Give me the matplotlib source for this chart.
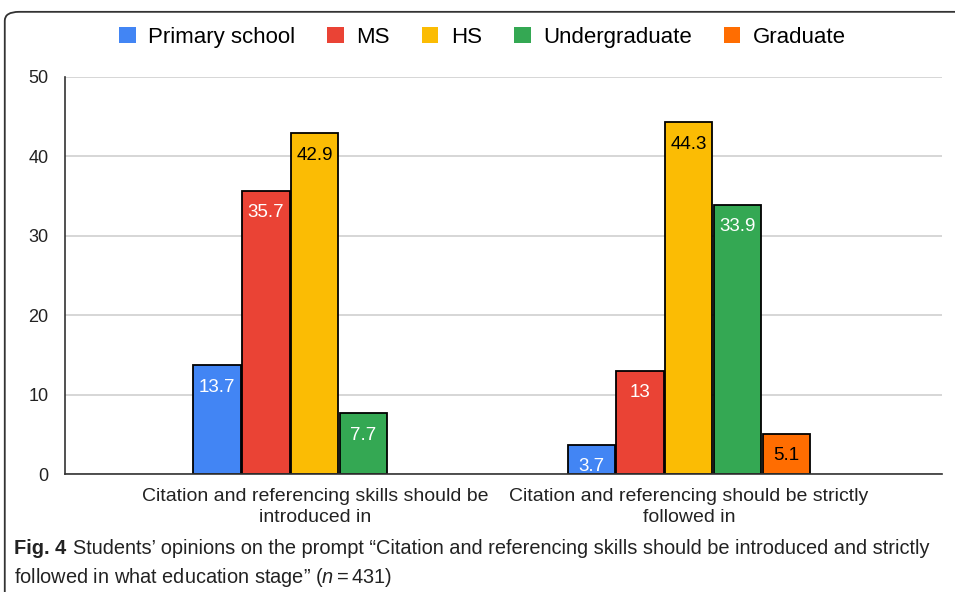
import numpy as np
import matplotlib.pyplot as plt
from matplotlib.patches import FancyBboxPatch, Patch

plt.rcParams['font.family'] = ['Liberation Sans', 'DejaVu Sans']
plt.rcParams['mathtext.fontset'] = 'custom'
plt.rcParams['mathtext.rm'] = 'Liberation Sans'
plt.rcParams['mathtext.it'] = 'Liberation Sans:italic'

# ---------------- data ----------------
categories = ['Citation and referencing skills should be\nintroduced in',
              'Citation and referencing should be strictly\nfollowed in']
series = ['Primary school', 'MS', 'HS', 'Undergraduate', 'Graduate']
values = {
    'Primary school': [13.7, 3.7],
    'MS': [35.7, 13],
    'HS': [42.9, 44.3],
    'Undergraduate': [7.7, 33.9],
    'Graduate': [None, 5.1],
}
colors = ['#4285F4', '#EA4335', '#FBBC04', '#34A853', '#FF6D01']
label_colors = ['white', 'white', 'black', 'white', 'black']
yticks = [0, 10, 20, 30, 40, 50]

# ---------------- plot ----------------
fig = plt.figure(figsize=(9.55, 5.92), dpi=100)
ax = fig.add_axes([0.068, 0.199, 0.918, 0.671])

x = np.arange(len(categories))
width = 0.1305
for i, name in enumerate(series):
    for j, v in enumerate(values[name]):
        if v is None:
            continue
        xpos = x[j] + (i - 2) * width
        ax.bar(xpos, v, width * 0.97, color=colors[i], edgecolor='black',
               linewidth=1.3, zorder=3)
        ax.annotate(f'{v:g}', (xpos, v), xytext=(0, -22), textcoords='offset pixels',
                    ha='center', va='center', fontsize=13.5,
                    color=label_colors[i], zorder=4)

ax.set_xlim(-0.668, 1.676)
ax.set_ylim(0, 50)
ax.set_yticks(yticks)
ax.set_xticks(x)
ax.set_xticklabels(categories, fontsize=14, linespacing=1.3)
ax.tick_params(axis='both', length=0, colors='#222222')
ax.tick_params(axis='y', labelsize=13, pad=12)
ax.tick_params(axis='x', pad=10)
ax.grid(axis='y', color='#d0d0d0', linewidth=1.2, zorder=0)
for s in ['top', 'right']:
    ax.spines[s].set_visible(False)
for s in ['bottom', 'left']:
    ax.spines[s].set_color('#333333')
    ax.spines[s].set_linewidth(1.2)
    ax.spines[s].set_zorder(5)

# legend
handles = [Patch(facecolor=c, edgecolor='none') for c in colors]
fig.legend(handles, series, loc='center', bbox_to_anchor=(0.505, 0.937),
           ncol=5, frameon=False, fontsize=16, handlelength=0.75,
           handleheight=0.75, handletextpad=0.55, columnspacing=1.45)

# caption
fig_lbl = fig.text(0.015, 0.074, 'Fig. 4', fontsize=14.4, fontweight='bold',
                   va='center', color='#222222')
ax.annotate('Students\u2019 opinions on the prompt \u201cCitation and referencing '
            'skills should be introduced and strictly', xy=(1, 0.5), xycoords=fig_lbl,
            xytext=(6, 0), textcoords='offset pixels', fontsize=14.4,
            va='center', ha='left', color='#222222', annotation_clip=False)
fig.text(0.015, 0.025, 'followed in what education stage\u201d ($\\mathit{n = 431}$)',
         fontsize=14.4, va='center', color='#222222')

# outer rounded frame
frame = FancyBboxPatch((0.005, -0.02), 1.02, 1.0, transform=fig.transFigure,
                       boxstyle='round,pad=0,rounding_size=0.015',
                       facecolor='none', edgecolor='#333333', linewidth=1.3)
fig.patches.append(frame)

plt.savefig('out.png', dpi=100)
plt.close()
